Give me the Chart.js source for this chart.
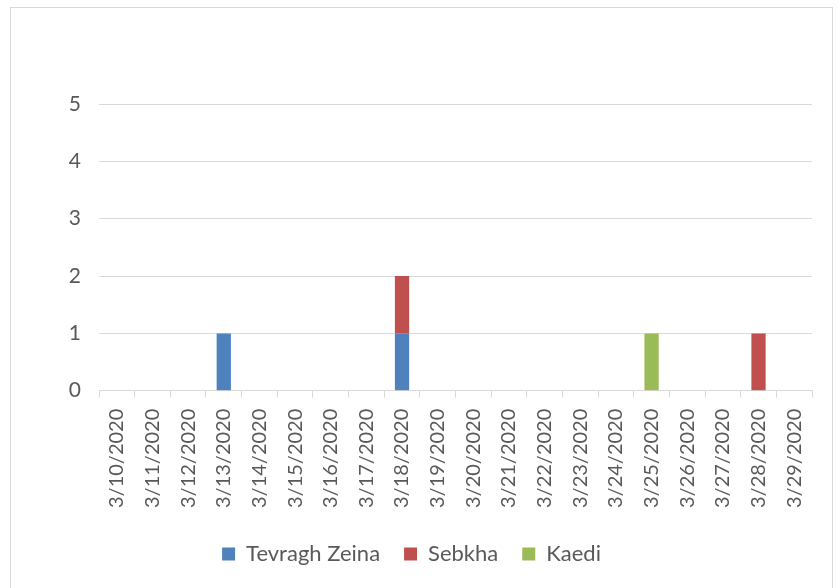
<!DOCTYPE html>
<html>
<head>
<meta charset="utf-8">
<script src="https://cdn.jsdelivr.net/npm/chart.js@4"></script>
<style>
  html, body { margin: 0; padding: 0; background: #fff; overflow: hidden; }
  #box {
    position: absolute; left: 10px; top: 7px;
    width: 821px; height: 590px;
    border: 1px solid #d9d9d9;
  }
</style>
</head>
<body>
<div id="box"><canvas id="barChart"></canvas></div>
<script>
const labels = ['3/10/2020', '3/11/2020', '3/12/2020', '3/13/2020', '3/14/2020',
    '3/15/2020', '3/16/2020', '3/17/2020', '3/18/2020', '3/19/2020',
    '3/20/2020', '3/21/2020', '3/22/2020', '3/23/2020', '3/24/2020',
    '3/25/2020', '3/26/2020', '3/27/2020', '3/28/2020', '3/29/2020'];
const tevraghZeina = [0, 0, 0, 1, 0, 0, 0, 0, 1, 0, 0, 0, 0, 0, 0, 0, 0, 0, 0, 0];
const sebkha       = [0, 0, 0, 0, 0, 0, 0, 0, 1, 0, 0, 0, 0, 0, 0, 0, 0, 0, 1, 0];
const kaedi        = [0, 0, 0, 0, 0, 0, 0, 0, 0, 0, 0, 0, 0, 0, 0, 1, 0, 0, 0, 0];
const yTicks = [0, 1, 2, 3, 4, 5];

const font = "Lato, 'Open Sans', sans-serif";
Chart.defaults.font.family = font;
Chart.defaults.color = '#595959';

const configBar = {
    type: 'bar',
    data: {
        labels: labels,
        datasets: [
            { label: 'Tevragh Zeina', data: tevraghZeina, backgroundColor: '#4f81bd' },
            { label: 'Sebkha', data: sebkha, backgroundColor: '#c0504d' },
            { label: 'Kaedi', data: kaedi, backgroundColor: '#9bbb59' }
        ]
    },
    options: {
        responsive: true,
        maintainAspectRatio: false,
        animation: false,
        layout: { padding: { top: 96, right: 20, bottom: 23, left: 0 } },
        datasets: { bar: { categoryPercentage: 1, barPercentage: 0.4 } },
        plugins: {
            legend: {
                position: 'bottom',
                labels: { boxWidth: 13, boxHeight: 13, padding: 24, font: { size: 22 } }
            },
            tooltip: { enabled: false }
        },
        scales: {
            x: {
                stacked: true,
                grid: { drawOnChartArea: false, drawTicks: true, tickLength: 7, color: '#d9d9d9', lineWidth: 1 },
                border: { color: '#d9d9d9' },
                ticks: { minRotation: 90, maxRotation: 90, font: { size: 20 }, padding: 11, autoSkip: false }
            },
            y: {
                stacked: true,
                min: 0,
                max: 5,
                afterFit: axis => { axis.width = 88; },
                afterBuildTicks: axis => { axis.ticks = yTicks.map(v => ({ value: v })); },
                grid: { color: '#d9d9d9', drawTicks: false },
                border: { display: false },
                ticks: { font: { size: 21 }, padding: 18 }
            }
        }
    }
};

new Chart(document.getElementById('barChart'), configBar);
</script>
</body>
</html>
